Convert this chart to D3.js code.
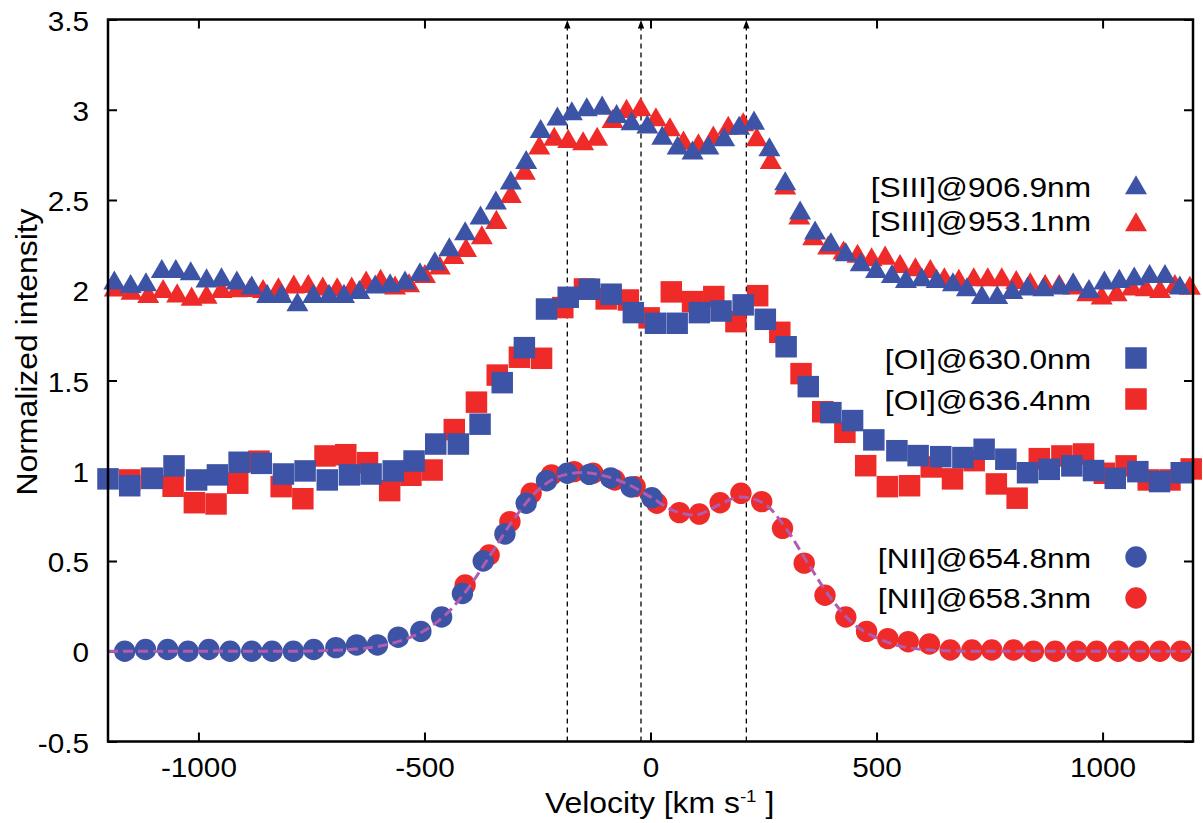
<!DOCTYPE html>
<html><head><meta charset="utf-8">
<script src="https://cdn.jsdelivr.net/npm/d3@7"></script>
<style>body{margin:0;background:#fff} svg{display:block}</style>
</head><body>
<svg id="chart" width="1203" height="823"></svg>
<script>
// ---------- data ----------
const xTicks = [-1000, -500, 0, 500, 1000];
const xTickLabels = ["-1000", "-500", "0", "500", "1000"];
const yTicks = [-0.5, 0, 0.5, 1, 1.5, 2, 2.5, 3, 3.5];
const yTickLabels = ["-0.5", "0", "0.5", "1", "1.5", "2", "2.5", "3", "3.5"];
const markerLines = [-184, -21, 212];

const legendLabels = ["[SIII]@906.9nm", "[SIII]@953.1nm", "[OI]@630.0nm", "[OI]@636.4nm", "[NII]@654.8nm", "[NII]@658.3nm"];

const siiiBlueV = [-1186,-1150,-1116,-1081,-1050,-1017,-982,-949,-915,-882,-848,-816,-781,-746,-711,-678,-644,-609,-576,-543,-510,-477,-445,-410,-376,-342,-309,-275,-243,-206,-174,-141,-107,-75,-42,-7,26,60,93,128,163,196,229,263,298,331,364,399,432,465,499,534,565,600,633,669,700,733,767,800,834,869,904,935,970,1004,1037,1070,1104,1138,1171];
const siiiBlueY = [2.039,2.020,2.029,2.103,2.103,2.090,2.051,2.057,2.039,2.011,1.965,1.965,1.919,1.965,1.965,1.965,1.987,2.017,2.024,2.039,2.085,2.146,2.223,2.312,2.399,2.482,2.593,2.707,2.879,2.948,2.977,2.999,3.008,2.962,2.921,2.903,2.842,2.787,2.759,2.787,2.833,2.897,2.925,2.777,2.589,2.427,2.316,2.251,2.196,2.140,2.103,2.075,2.048,2.057,2.048,2.029,2.002,1.959,1.959,1.987,2.006,2.002,2.011,2.029,1.992,2.039,2.048,2.061,2.075,2.075,2.011];

const siiiRedV = [-1185,-1148,-1111,-1078,-1047,-1015,-982,-949,-915,-886,-857,-823,-789,-757,-725,-693,-661,-629,-597,-565,-534,-499,-466,-436,-408,-373,-341,-309,-278,-246,-213,-182,-149,-118,-84,-53,-22,12,43,73,106,139,172,205,235,266,298,329,360,393,427,458,489,519,552,586,619,650,682,715,746,777,809,840,873,904,935,966,998,1031,1065,1096,1127,1160,1193];
const siiiRedY = [2.00,1.983,1.965,1.992,1.968,1.950,1.961,1.992,1.996,1.998,1.992,2.002,2.017,2.020,2.006,2.002,2.006,2.039,2.048,2.011,2.024,2.075,2.122,2.18,2.22,2.29,2.375,2.519,2.648,2.787,2.836,2.823,2.811,2.836,2.934,2.990,2.999,2.944,2.888,2.814,2.799,2.842,2.897,2.916,2.833,2.707,2.565,2.399,2.285,2.233,2.205,2.187,2.168,2.177,2.131,2.113,2.103,2.057,2.048,2.057,2.057,2.057,2.042,2.029,2.020,2.020,2.011,1.974,1.956,1.974,2.006,2.002,1.992,2.020,2.01];

const oiBlueV = [-1200,-1152,-1102,-1054,-1004,-958,-910,-861,-812,-764,-715,-666,-618,-569,-523,-475,-425,-377,-328,-279,-230,-182,-135,-87,-38,11,59,108,156,205,254,300,349,399,447,494,545,592,642,691,738,786,834,882,932,980,1028,1078,1126,1174];
const oiBlueY = [0.955,0.917,0.958,1.027,0.949,0.977,1.047,1.041,0.982,0.999,0.949,0.977,0.982,0.999,1.054,1.148,1.148,1.258,1.488,1.682,1.896,1.961,2.006,1.978,1.876,1.817,1.817,1.876,1.885,1.919,1.839,1.687,1.466,1.322,1.278,1.171,1.111,1.084,1.078,1.073,1.119,1.064,0.989,1.008,1.027,1.001,0.958,0.995,0.94,0.989];

const oiRedV = [-1152,-1104,-1056,-1009,-961,-913,-866,-817,-769,-720,-674,-626,-577,-530,-483,-434,-385,-339,-290,-241,-194,-146,-98,-49,-3,46,93,140,189,237,286,333,381,430,476,524,573,621,668,716,765,811,860,910,958,1004,1052,1101,1149,1196];
const oiRedY = [0.949,0.958,0.914,0.823,0.816,0.931,1.053,0.912,0.845,1.082,1.089,1.045,0.890,0.975,1.004,1.228,1.380,1.530,1.629,1.623,1.904,2.007,1.952,1.946,1.847,1.991,1.937,1.965,1.826,1.97,1.767,1.538,1.327,1.213,1.028,0.912,0.917,1.021,0.955,1.056,0.927,0.848,1.067,1.082,1.093,0.986,1.027,0.949,0.949,1.01];

const niiBlueV = [-1163,-1117,-1068,-1023,-977,-930,-882,-837,-790,-745,-696,-650,-604,-558,-508,-462,-416,-370,-322,-275,-230,-184,-135,-88,-43,3];
const niiBlueY = [0.00,0.01,0.01,0.00,0.01,0.00,0.00,0.00,0.00,0.01,0.02,0.035,0.035,0.078,0.11,0.19,0.32,0.50,0.65,0.82,0.945,0.986,0.98,0.96,0.91,0.85];

const niiRedV = [-410,-357,-311,-264,-219,-169,-127,-79,-34,14,64,108,154,200,246,292,340,386,432,478,525,570,617,663,711,755,803,847,895,943,987,1035,1081,1127,1173];
const niiRedY = [0.367,0.533,0.718,0.875,0.977,0.995,0.986,0.949,0.912,0.82,0.768,0.76,0.823,0.875,0.829,0.681,0.488,0.31,0.19,0.11,0.07,0.053,0.04,0.007,0.007,0.007,0.007,0,0,0,0,0,0,0,0];

const fitV = [-1200,-800,-700,-650,-600,-550,-500,-450,-400,-350,-300,-250,-200,-150,-100,-50,0,50,100,150,200,250,300,350,400,450,500,550,600,650,700,1200];
const fitY = [0,0,0.005,0.012,0.028,0.06,0.115,0.21,0.36,0.55,0.74,0.89,0.97,0.99,0.97,0.925,0.855,0.78,0.755,0.81,0.855,0.82,0.68,0.48,0.29,0.15,0.075,0.03,0.01,0.003,0,0];

// ---------- drawing ----------
const BLUE = "#3d53a5", RED = "#ee2b29", PURPLE = "#b05cb0";
const FONT = "'Liberation Sans', Arial, Helvetica, sans-serif";
const svg = d3.select("#chart");
svg.append("rect").attr("width", 1203).attr("height", 823).attr("fill", "#fff");

const x = d3.scaleLinear().domain([-1200, 1200]).range([108, 1193]);
const y = d3.scaleLinear().domain([-0.5, 3.5]).range([741.5, 19.5]);

const zip = (a, b) => a.map((v, i) => ({v: v, y: b[i]}));

// axes (ticks inward on all four sides)
const axB = svg.append("g").attr("transform", `translate(0,${y(-0.5)})`)
  .call(d3.axisBottom(x).tickValues(xTicks).tickSizeInner(-9).tickSizeOuter(0).tickFormat((d, i) => xTickLabels[i]));
const axT = svg.append("g").attr("transform", `translate(0,${y(3.5)})`)
  .call(d3.axisTop(x).tickValues(xTicks).tickSizeInner(-9).tickSizeOuter(0).tickFormat(""));
const axL = svg.append("g").attr("transform", `translate(${x(-1200)},0)`)
  .call(d3.axisLeft(y).tickValues(yTicks).tickSizeInner(-9).tickSizeOuter(0).tickFormat((d, i) => yTickLabels[i]));
const axR = svg.append("g").attr("transform", `translate(${x(1200)},0)`)
  .call(d3.axisRight(y).tickValues(yTicks).tickSizeInner(-9).tickSizeOuter(0).tickFormat(""));
[axB, axT, axL, axR].forEach(a => {
  a.select(".domain").remove();
  a.selectAll(".tick line").attr("stroke", "#000").attr("stroke-width", 2);
});
axB.selectAll(".tick text").attr("y", 35.5).attr("dy", 0).attr("font-size", 27).attr("font-family", FONT)
  .attr("fill", "#000").attr("transform", "scale(1.1,1)");
axL.selectAll(".tick text").attr("x", -17.3).attr("dy", 0).attr("y", 10.5).attr("font-size", 27).attr("font-family", FONT)
  .attr("fill", "#000").attr("transform", "scale(1.1,1)");

// vertical dashed marker lines with arrow heads
const mk = svg.append("g");
markerLines.forEach(v => {
  mk.append("line").attr("x1", x(v)).attr("x2", x(v)).attr("y1", y(-0.5)).attr("y2", y(3.5) + 6)
    .attr("stroke", "#000").attr("stroke-width", 1.3).attr("stroke-dasharray", "5,4");
  mk.append("path").attr("d", `M${x(v)},${y(3.5) + 0.5} L${x(v) - 3.2},${y(3.5) + 9} L${x(v) + 3.2},${y(3.5) + 9} Z`)
    .attr("fill", "#000");
});

// series
const tri = d3.symbol().type(d3.symbolTriangle).size(210);
const sq = d3.symbol().type(d3.symbolSquare).size(462);
const circ = d3.symbol().type(d3.symbolCircle).size(360);

function drawSeries(data, sym, color) {
  svg.append("g").selectAll("path").data(data).join("path")
    .attr("d", sym).attr("fill", color)
    .attr("transform", d => `translate(${x(d.v)},${y(d.y)})`);
}
drawSeries(zip(siiiRedV, siiiRedY), tri, RED);
drawSeries(zip(siiiBlueV, siiiBlueY), tri, BLUE);
drawSeries(zip(oiRedV, oiRedY), sq, RED);
drawSeries(zip(oiBlueV, oiBlueY), sq, BLUE);
drawSeries(zip(niiRedV, niiRedY), circ, RED);
drawSeries(zip(niiBlueV, niiBlueY), circ, BLUE);

// fit curve
svg.append("path").datum(zip(fitV, fitY))
  .attr("d", d3.line().x(d => x(d.v)).y(d => y(d.y)).curve(d3.curveMonotoneX))
  .attr("fill", "none").attr("stroke", PURPLE).attr("stroke-width", 3).attr("stroke-dasharray", "10,5");

// frame
svg.append("rect").attr("x", x(-1200)).attr("y", y(3.5)).attr("width", x(1200) - x(-1200)).attr("height", y(-0.5) - y(3.5))
  .attr("fill", "none").attr("stroke", "#000").attr("stroke-width", 2.5);

// legend
const legY = [196.5, 230.5, 369, 410, 568, 608];
const legSymY = [188, 225, 358, 399, 557, 598];
const legSym = [tri, tri, sq, sq, circ, circ];
const legCol = [BLUE, RED, BLUE, RED, BLUE, RED];
const lg = svg.append("g");
legendLabels.forEach((t, i) => {
  lg.append("text").attr("transform", `translate(1091,${legY[i]}) scale(1.13,1)`)
    .attr("text-anchor", "end").attr("font-size", 28).attr("font-family", FONT).attr("fill", "#000").text(t);
  lg.append("path").attr("d", legSym[i]).attr("fill", legCol[i]).attr("transform", `translate(1136,${legSymY[i]})`);
});

// axis titles
const xt = svg.append("text").attr("transform", "translate(545,812.5) scale(1.1,1)")
  .attr("font-size", 29).attr("font-family", FONT).attr("fill", "#000");
xt.append("tspan").text("Velocity [km s");
xt.append("tspan").attr("dy", -11).attr("font-size", 17).text("-1");
xt.append("tspan").attr("dy", 11).text(" ]");

svg.append("text").attr("transform", "translate(37,352) rotate(-90) scale(1.1,1)")
  .attr("text-anchor", "middle").attr("font-size", 29).attr("font-family", FONT).attr("fill", "#000")
  .text("Normalized intensity");
</script></body></html>
